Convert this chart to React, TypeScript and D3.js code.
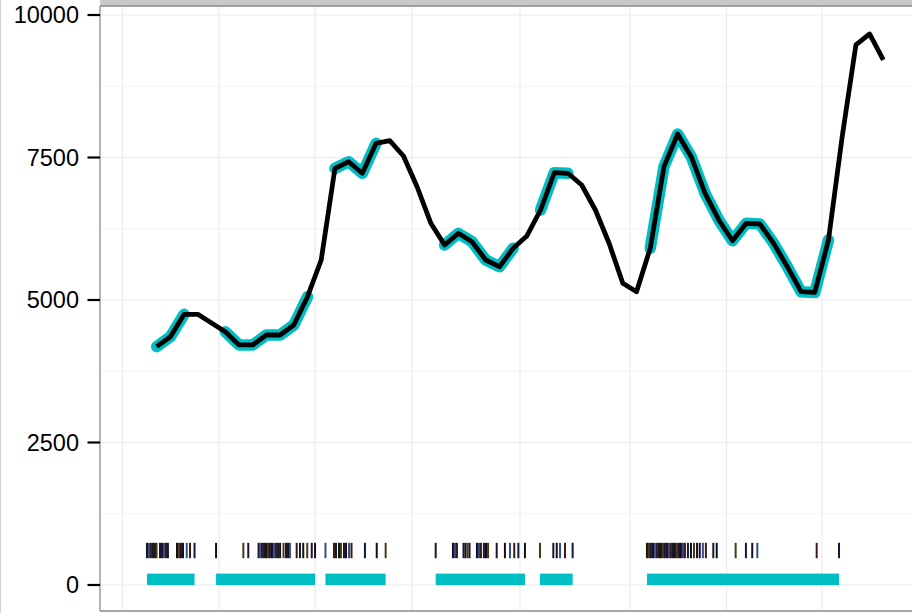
import React from "react";
import * as d3 from "d3";

// Series values (index = period)
const values: number[] = [
  4181, 4356, 4749, 4749, 4596, 4444, 4211, 4211, 4386, 4386,
  4561, 5058, 5702, 7307, 7426, 7223, 7749, 7795, 7526, 6982,
  6346, 5965, 6170, 6023, 5702, 5584, 5907, 6123, 6579, 7233,
  7223, 7018, 6579, 5995, 5293, 5146, 5907, 7339, 7912, 7509,
  6872, 6404, 6040, 6346, 6333, 5995, 5584, 5146, 5132, 6053,
  7865, 9474, 9667, 9211,
];

// Event periods (start / end, in period units)
const barStart: number[] = [-0.71, 4.33, 12.31, 20.35, 27.96, 35.76];
const barEnd: number[] = [2.76, 11.55, 16.7, 26.86, 30.34, 49.77];

// Rug event positions (period units)
const rugPos: number[] = [
  -0.71, -0.56, -0.42, -0.27, -0.12, -0.01, 0.24, 0.39, 0.53, 0.68, 0.82,
  1.48, 1.63, 1.77, 1.92, 2.19, 2.43, 2.76,
  4.33, 6.32, 6.68, 7.43, 7.53, 7.68, 7.83, 7.97, 8.12, 8.26, 8.41, 8.56,
  8.7, 8.85, 9.0, 9.25, 9.43, 9.58, 9.72, 10.21, 10.45, 10.69, 10.98, 11.31, 11.55,
  12.31, 12.93, 13.08, 13.3, 13.44, 13.66, 13.81, 14.03, 14.21, 15.19, 16.05, 16.7,
  20.35, 21.61, 21.76, 21.9, 22.38, 22.52, 22.67, 22.82, 23.36, 23.51, 23.65,
  23.87, 24.02, 24.17, 24.8, 25.4, 25.77, 26.08, 26.38, 26.86,
  27.96, 28.93, 29.18, 29.42, 29.78, 30.34,
  35.76, 35.91, 36.05, 36.2, 36.34, 36.49, 36.64, 36.78, 36.93, 37.07, 37.22,
  37.37, 37.51, 37.66, 37.8, 37.95, 38.1, 38.24, 38.39, 38.53, 38.75, 38.97,
  39.19, 39.41, 39.61, 39.84, 40.06, 40.6, 40.85, 42.23, 42.98, 43.44, 43.81,
  48.14, 49.77,
];
const rugColors: string[] = ["#1c0c22", "#2f4f8c", "#3e1a12", "#101a3a", "#111111", "#4a3a14", "#1e1430"];

const yTicks: number[] = [0, 2500, 5000, 7500, 10000];
const yMinor: number[] = [1250, 3750, 6250, 8750];
const xBreaks: number[] = [-2.49, 4.54, 11.55, 18.62, 26.5, 34.52, 41.56, 48.53];

const rugLow = 470;
const rugHigh = 740;
const barHeight = 200;

export default function App() {
  const W = 912;
  const H = 613;
  const panelL = 100;
  const panelT = 6;
  const panelB = 611;

  const x = d3.scaleLinear().domain([0, 53]).range([156.7, 883.3]);
  const y = d3.scaleLinear().domain([0, 10000]).range([585, 15]);

  const line = d3
    .line<number>()
    .x((_, i) => x(i))
    .y((d) => y(d));

  const highlightSegs = barStart.map((s, k) => {
    const pts: [number, number][] = [];
    values.forEach((v, i) => {
      if (i >= s && i <= barEnd[k]) pts.push([i, v]);
    });
    return pts;
  });
  const segLine = d3
    .line<[number, number]>()
    .x((d) => x(d[0]))
    .y((d) => y(d[1]));

  return (
    <svg
      width={W}
      height={H}
      style={{ position: "absolute", left: 0, top: 0, background: "#fff" }}
      fontFamily="'Liberation Sans', Arial, sans-serif"
    >
      <rect x={0} y={0} width={W} height={H} fill="#fff" />
      <line x1={0.5} x2={0.5} y1={0} y2={H} stroke="#d4d4d4" strokeWidth={1} />
      {/* strip */}
      <rect x={panelL} y={0} width={W - panelL} height={panelT} fill="#c9c9c9" />
      {/* grid */}
      {yMinor.map((v) => (
        <line key={"ym" + v} x1={panelL} x2={W} y1={y(v)} y2={y(v)} stroke="#f3f3f3" strokeWidth={1} />
      ))}
      {yTicks.map((v) => (
        <line key={"yM" + v} x1={panelL} x2={W} y1={y(v)} y2={y(v)} stroke="#ebebeb" strokeWidth={1.1} />
      ))}
      {xBreaks.map((v) => (
        <line key={"xb" + v} x1={x(v)} x2={x(v)} y1={panelT} y2={panelB} stroke="#ebebeb" strokeWidth={1.1} />
      ))}
      {/* bars */}
      {barStart.map((s, k) => (
        <rect
          key={"bar" + k}
          x={x(s)}
          y={y(barHeight)}
          width={x(barEnd[k]) - x(s)}
          height={y(0) - y(barHeight)}
          fill="#00BFC4"
        />
      ))}
      {/* rug */}
      {rugPos.map((p, i) => (
        <line
          key={"rug" + i}
          x1={x(p)}
          x2={x(p)}
          y1={y(rugLow)}
          y2={y(rugHigh)}
          stroke={rugColors[i % rugColors.length]}
          strokeWidth={2}
        />
      ))}
      {/* highlighted segments */}
      {highlightSegs.map((pts, k) => (
        <path
          key={"hs" + k}
          d={segLine(pts) || ""}
          fill="none"
          stroke="#00BFC4"
          strokeWidth={11.5}
          strokeLinecap="round"
          strokeLinejoin="round"
        />
      ))}
      {/* main line */}
      <path d={line(values) || ""} fill="none" stroke="#000" strokeWidth={4.8} strokeLinejoin="round" />
      {/* panel border */}
      <line x1={panelL} x2={W} y1={panelT} y2={panelT} stroke="#8a8a8a" strokeWidth={1.3} />
      <line x1={panelL} x2={W} y1={panelB} y2={panelB} stroke="#8a8a8a" strokeWidth={1.3} />
      <line x1={panelL} x2={panelL} y1={panelT} y2={panelB} stroke="#8a8a8a" strokeWidth={1.3} />
      {/* y axis */}
      {yTicks.map((v) => (
        <g key={"yt" + v}>
          <line x1={87.5} x2={panelL} y1={y(v)} y2={y(v)} stroke="#000" strokeWidth={2.2} />
          <text x={79} y={y(v)} dy="0.36em" textAnchor="end" fontSize={23.5} fill="#000">
            {v}
          </text>
        </g>
      ))}
    </svg>
  );
}
